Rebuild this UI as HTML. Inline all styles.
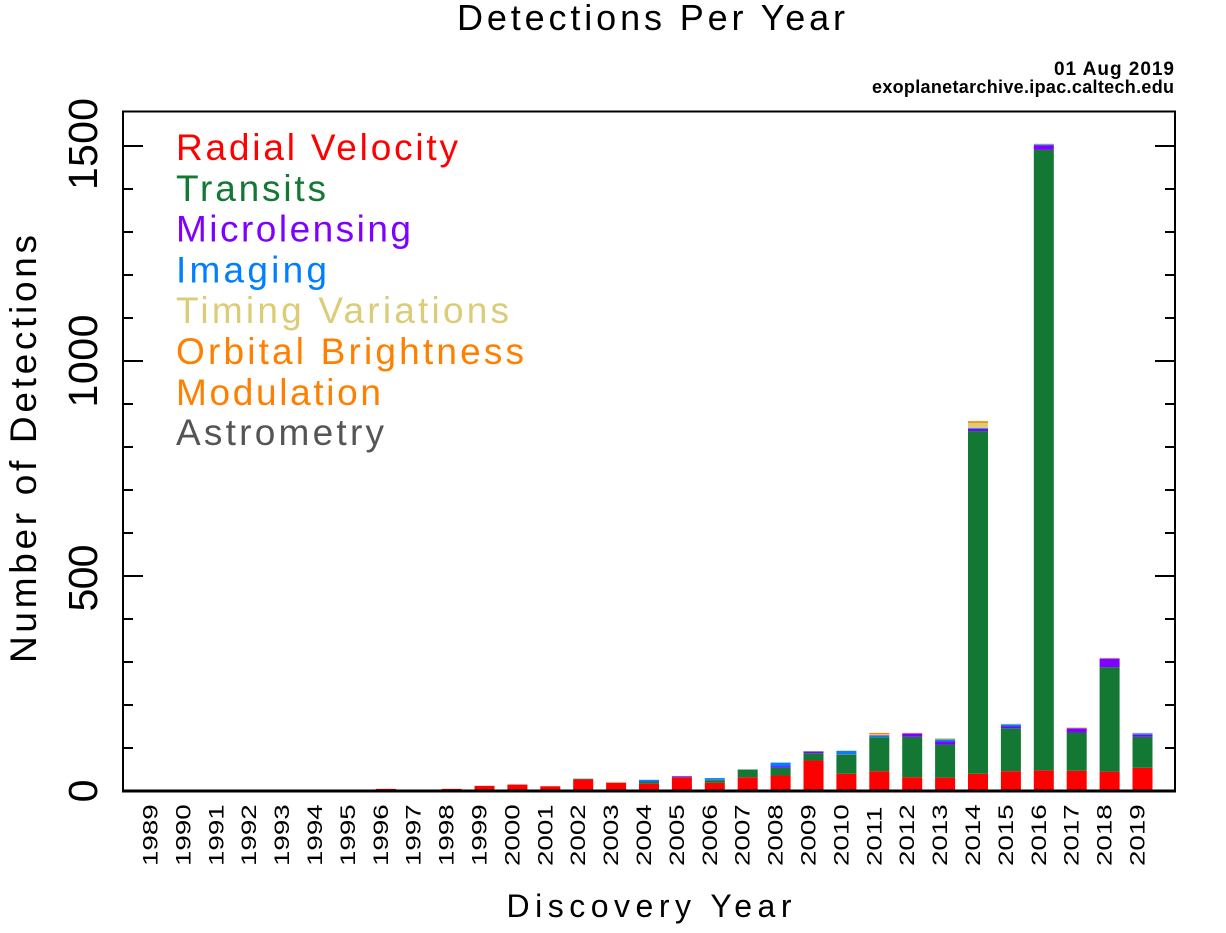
<!DOCTYPE html>
<html><head><meta charset="utf-8"><style>
html,body{margin:0;padding:0;background:#fff;}
svg{display:block;}
text{font-family:"Liberation Sans",sans-serif;}
</style></head><body>
<svg width="1226" height="933" viewBox="0 0 1226 933" xmlns="http://www.w3.org/2000/svg">
<rect width="1226" height="933" fill="#fff"/>
<!-- title -->
<text x="651" y="30" font-size="36" text-anchor="middle" textLength="388" fill="#000">Detections Per Year</text>
<text x="1174" y="75" font-size="19" font-weight="bold" text-anchor="end" textLength="120" fill="#000">01 Aug 2019</text>
<text x="1174" y="93" font-size="18" font-weight="bold" text-anchor="end" textLength="302" fill="#000">exoplanetarchive.ipac.caltech.edu</text>

<!-- bars -->
<g transform="translate(0,791) scale(1,-0.43)">
<rect x="145.5" y="0" width="20" height="1" fill="#ff0000"/>
<rect x="244.2" y="0" width="20" height="2" fill="#ddcc77"/>
<rect x="310" y="0" width="20" height="1" fill="#b0a070"/>
<rect x="342.9" y="0" width="20" height="1" fill="#ff0000"/>
<rect x="375.8" y="0" width="20" height="5" fill="#ff0000"/>
<rect x="408.7" y="0" width="20" height="1" fill="#ff0000"/>
<rect x="441.6" y="0" width="20" height="5" fill="#ff0000"/>
<rect x="474.5" y="0" width="20" height="12" fill="#ff0000"/>
<rect x="507.4" y="0" width="20" height="15" fill="#ff0000"/>
<rect x="540.3" y="0" width="20" height="11" fill="#ff0000"/>
<rect x="573.2" y="0" width="20" height="27" fill="#ff0000"/>
<rect x="573.2" y="27" width="20" height="1.5" fill="#137833"/>
<rect x="606.1" y="0" width="20" height="19" fill="#ff0000"/>
<rect x="606.1" y="19" width="20" height="1.5" fill="#e0a060"/>
<rect x="639" y="0" width="20" height="17" fill="#ff0000"/>
<rect x="639" y="17" width="20" height="4" fill="#137833"/>
<rect x="639" y="21" width="20" height="1" fill="#8000ff"/>
<rect x="639" y="22" width="20" height="4" fill="#0080ff"/>
<rect x="671.9" y="0" width="20" height="32" fill="#ff0000"/>
<rect x="671.9" y="32" width="20" height="1.5" fill="#8000ff"/>
<rect x="671.9" y="33.5" width="20" height="1.5" fill="#6070ff"/>
<rect x="704.8" y="0" width="20" height="19" fill="#ff0000"/>
<rect x="704.8" y="19" width="20" height="5" fill="#137833"/>
<rect x="704.8" y="24" width="20" height="2" fill="#555"/>
<rect x="704.8" y="26" width="20" height="4" fill="#0080ff"/>
<rect x="737.7" y="0" width="20" height="32" fill="#ff0000"/>
<rect x="737.7" y="32" width="20" height="18" fill="#137833"/>
<rect x="770.6" y="0" width="20" height="36" fill="#ff0000"/>
<rect x="770.6" y="36" width="20" height="18" fill="#137833"/>
<rect x="770.6" y="54" width="20" height="3" fill="#8000ff"/>
<rect x="770.6" y="57" width="20" height="9" fill="#0080ff"/>
<rect x="803.5" y="0" width="20" height="71" fill="#ff0000"/>
<rect x="803.5" y="71" width="20" height="17" fill="#137833"/>
<rect x="803.5" y="88" width="20" height="3" fill="#8000ff"/>
<rect x="803.5" y="91" width="20" height="2" fill="#7070ff"/>
<rect x="836.4" y="0" width="20" height="40" fill="#ff0000"/>
<rect x="836.4" y="40" width="20" height="44" fill="#137833"/>
<rect x="836.4" y="84" width="20" height="1.5" fill="#555"/>
<rect x="836.4" y="85.5" width="20" height="7.5" fill="#0080ff"/>
<rect x="836.4" y="93" width="20" height="1.5" fill="#ddcc77"/>
<rect x="869.3" y="0" width="20" height="46" fill="#ff0000"/>
<rect x="869.3" y="46" width="20" height="79" fill="#137833"/>
<rect x="869.3" y="125" width="20" height="3" fill="#0080ff"/>
<rect x="869.3" y="128" width="20" height="1.5" fill="#8000ff"/>
<rect x="869.3" y="129.5" width="20" height="3" fill="#ddcc77"/>
<rect x="869.3" y="132.5" width="20" height="2.5" fill="#ff8000"/>
<rect x="902.2" y="0" width="20" height="32" fill="#ff0000"/>
<rect x="902.2" y="32" width="20" height="94" fill="#137833"/>
<rect x="902.2" y="126" width="20" height="8" fill="#8000ff"/>
<rect x="902.2" y="134" width="20" height="1.5" fill="#ddcc77"/>
<rect x="935.1" y="0" width="20" height="31" fill="#ff0000"/>
<rect x="935.1" y="31" width="20" height="77" fill="#137833"/>
<rect x="935.1" y="108" width="20" height="7" fill="#8000ff"/>
<rect x="935.1" y="115" width="20" height="5" fill="#0080ff"/>
<rect x="935.1" y="120" width="20" height="3" fill="#ddcc77"/>
<rect x="968" y="0" width="20" height="40" fill="#ff0000"/>
<rect x="968" y="40" width="20" height="797" fill="#137833"/>
<rect x="968" y="837" width="20" height="5" fill="#8000ff"/>
<rect x="968" y="842" width="20" height="2" fill="#0080ff"/>
<rect x="968" y="844" width="20" height="12" fill="#ddcc77"/>
<rect x="968" y="856" width="20" height="4" fill="#ff8000"/>
<rect x="1000.9" y="0" width="20" height="46" fill="#ff0000"/>
<rect x="1000.9" y="46" width="20" height="100" fill="#137833"/>
<rect x="1000.9" y="146" width="20" height="4" fill="#8000ff"/>
<rect x="1000.9" y="150" width="20" height="5" fill="#0080ff"/>
<rect x="1000.9" y="155" width="20" height="1.5" fill="#ddcc77"/>
<rect x="1033.8" y="0" width="20" height="48" fill="#ff0000"/>
<rect x="1033.8" y="48" width="20" height="1443" fill="#137833"/>
<rect x="1033.8" y="1491" width="20" height="11" fill="#8000ff"/>
<rect x="1033.8" y="1502" width="20" height="1.5" fill="#0080ff"/>
<rect x="1033.8" y="1503.5" width="20" height="2" fill="#ddcc77"/>
<rect x="1066.7" y="0" width="20" height="47" fill="#ff0000"/>
<rect x="1066.7" y="47" width="20" height="89" fill="#137833"/>
<rect x="1066.7" y="136" width="20" height="10" fill="#8000ff"/>
<rect x="1066.7" y="146" width="20" height="2" fill="#ddcc77"/>
<rect x="1099.6" y="0" width="20" height="45" fill="#ff0000"/>
<rect x="1099.6" y="45" width="20" height="243" fill="#137833"/>
<rect x="1099.6" y="288" width="20" height="20" fill="#8000ff"/>
<rect x="1099.6" y="308" width="20" height="2" fill="#ddcc77"/>
<rect x="1132.5" y="0" width="20" height="54" fill="#ff0000"/>
<rect x="1132.5" y="54" width="20" height="72" fill="#137833"/>
<rect x="1132.5" y="126" width="20" height="5" fill="#8000ff"/>
<rect x="1132.5" y="131" width="20" height="3" fill="#0080ff"/>
<rect x="1132.5" y="134" width="20" height="1.5" fill="#ddcc77"/>
</g>

<!-- frame -->
<rect x="123" y="111.5" width="1052" height="679.5" fill="none" stroke="#000" stroke-width="2"/>
<line x1="122" y1="791" x2="1176" y2="791" stroke="#000" stroke-width="3"/>

<!-- ticks -->
<g stroke="#000" stroke-width="2">
<line x1="123" y1="748" x2="133" y2="748"/><line x1="1175" y1="748" x2="1165" y2="748"/>
<line x1="123" y1="705" x2="133" y2="705"/><line x1="1175" y1="705" x2="1165" y2="705"/>
<line x1="123" y1="662" x2="133" y2="662"/><line x1="1175" y1="662" x2="1165" y2="662"/>
<line x1="123" y1="619" x2="133" y2="619"/><line x1="1175" y1="619" x2="1165" y2="619"/>
<line x1="123" y1="576" x2="143" y2="576"/><line x1="1175" y1="576" x2="1155" y2="576"/>
<line x1="123" y1="533" x2="133" y2="533"/><line x1="1175" y1="533" x2="1165" y2="533"/>
<line x1="123" y1="490" x2="133" y2="490"/><line x1="1175" y1="490" x2="1165" y2="490"/>
<line x1="123" y1="447" x2="133" y2="447"/><line x1="1175" y1="447" x2="1165" y2="447"/>
<line x1="123" y1="404" x2="133" y2="404"/><line x1="1175" y1="404" x2="1165" y2="404"/>
<line x1="123" y1="361" x2="143" y2="361"/><line x1="1175" y1="361" x2="1155" y2="361"/>
<line x1="123" y1="318" x2="133" y2="318"/><line x1="1175" y1="318" x2="1165" y2="318"/>
<line x1="123" y1="275" x2="133" y2="275"/><line x1="1175" y1="275" x2="1165" y2="275"/>
<line x1="123" y1="232" x2="133" y2="232"/><line x1="1175" y1="232" x2="1165" y2="232"/>
<line x1="123" y1="189" x2="133" y2="189"/><line x1="1175" y1="189" x2="1165" y2="189"/>
<line x1="123" y1="146" x2="143" y2="146"/><line x1="1175" y1="146" x2="1155" y2="146"/>
</g>

<!-- y tick labels -->
<g font-size="41" fill="#000" text-anchor="middle">
<text transform="translate(97,144) rotate(-90)" textLength="92">1500</text>
<text transform="translate(97,361) rotate(-90)" textLength="93">1000</text>
<text transform="translate(97,578) rotate(-90)" textLength="67">500</text>
<text transform="translate(97,791) rotate(-90)">0</text>
</g>
<text transform="translate(36,449) rotate(-90)" font-size="37" text-anchor="middle" textLength="428" fill="#000">Number of Detections</text>

<!-- x labels -->
<g font-size="21" fill="#000" text-anchor="start">
<text transform="translate(157.5,866) rotate(-90) scale(1.32,1)">1989</text>
<text transform="translate(190.4,866) rotate(-90) scale(1.32,1)">1990</text>
<text transform="translate(223.3,866) rotate(-90) scale(1.32,1)">1991</text>
<text transform="translate(256.2,866) rotate(-90) scale(1.32,1)">1992</text>
<text transform="translate(289.1,866) rotate(-90) scale(1.32,1)">1993</text>
<text transform="translate(322,866) rotate(-90) scale(1.32,1)">1994</text>
<text transform="translate(354.9,866) rotate(-90) scale(1.32,1)">1995</text>
<text transform="translate(387.8,866) rotate(-90) scale(1.32,1)">1996</text>
<text transform="translate(420.7,866) rotate(-90) scale(1.32,1)">1997</text>
<text transform="translate(453.6,866) rotate(-90) scale(1.32,1)">1998</text>
<text transform="translate(486.5,866) rotate(-90) scale(1.32,1)">1999</text>
<text transform="translate(519.4,866) rotate(-90) scale(1.32,1)">2000</text>
<text transform="translate(552.3,866) rotate(-90) scale(1.32,1)">2001</text>
<text transform="translate(585.2,866) rotate(-90) scale(1.32,1)">2002</text>
<text transform="translate(618.1,866) rotate(-90) scale(1.32,1)">2003</text>
<text transform="translate(651,866) rotate(-90) scale(1.32,1)">2004</text>
<text transform="translate(683.9,866) rotate(-90) scale(1.32,1)">2005</text>
<text transform="translate(716.8,866) rotate(-90) scale(1.32,1)">2006</text>
<text transform="translate(749.7,866) rotate(-90) scale(1.32,1)">2007</text>
<text transform="translate(782.6,866) rotate(-90) scale(1.32,1)">2008</text>
<text transform="translate(815.5,866) rotate(-90) scale(1.32,1)">2009</text>
<text transform="translate(848.4,866) rotate(-90) scale(1.32,1)">2010</text>
<text transform="translate(881.3,866) rotate(-90) scale(1.32,1)">2011</text>
<text transform="translate(914.2,866) rotate(-90) scale(1.32,1)">2012</text>
<text transform="translate(947.1,866) rotate(-90) scale(1.32,1)">2013</text>
<text transform="translate(980,866) rotate(-90) scale(1.32,1)">2014</text>
<text transform="translate(1012.9,866) rotate(-90) scale(1.32,1)">2015</text>
<text transform="translate(1045.8,866) rotate(-90) scale(1.32,1)">2016</text>
<text transform="translate(1078.7,866) rotate(-90) scale(1.32,1)">2017</text>
<text transform="translate(1111.6,866) rotate(-90) scale(1.32,1)">2018</text>
<text transform="translate(1144.5,866) rotate(-90) scale(1.32,1)">2019</text>
</g>
<text x="649" y="917" font-size="32" text-anchor="middle" textLength="285" fill="#000">Discovery Year</text>

<!-- legend -->
<g font-size="37">
<text x="176" y="160" textLength="282" fill="#ff0000">Radial Velocity</text>
<text x="176" y="201" textLength="150" fill="#137833">Transits</text>
<text x="176" y="241.5" textLength="235" fill="#8000ff">Microlensing</text>
<text x="176" y="282.5" textLength="151" fill="#0080ff">Imaging</text>
<text x="176" y="323" textLength="333" fill="#ddcc77">Timing Variations</text>
<text x="176" y="364" textLength="348" fill="#ff8000">Orbital Brightness</text>
<text x="176" y="405" textLength="205" fill="#ff8000">Modulation</text>
<text x="176" y="445" textLength="208" fill="#555555">Astrometry</text>
</g>
</svg>
</body></html>
